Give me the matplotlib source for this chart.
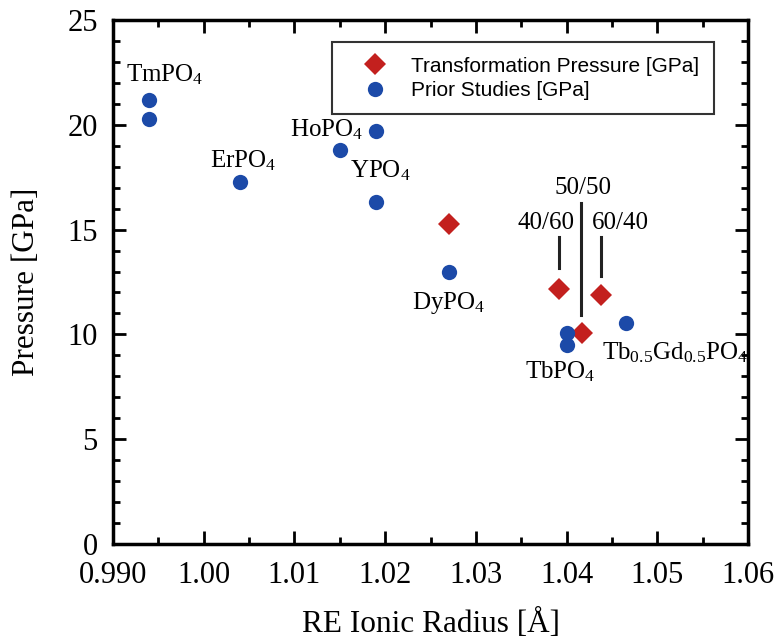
import matplotlib
matplotlib.use("Agg")
import matplotlib.pyplot as plt
from matplotlib.ticker import MultipleLocator, FixedFormatter, FixedLocator

plt.rcParams['mathtext.fontset'] = 'custom'
plt.rcParams['mathtext.rm'] = 'Liberation Serif'
plt.rcParams['mathtext.it'] = 'Liberation Serif'
plt.rcParams['font.family'] = ['Liberation Serif', 'DejaVu Serif']

# Data
trans_x = [1.027, 1.0392, 1.0417, 1.0438]
trans_y = [15.27, 12.17, 10.07, 11.88]
prior_x = [0.994, 0.994, 1.004, 1.015, 1.019, 1.019, 1.027, 1.040, 1.040, 1.0466]
prior_y = [21.2, 20.3, 17.27, 18.8, 19.7, 16.3, 13.0, 10.07, 9.5, 10.54]

xticks = [0.990, 1.00, 1.01, 1.02, 1.03, 1.04, 1.05, 1.06]
xticklabels = ["0.990", "1.00", "1.01", "1.02", "1.03", "1.04", "1.05", "1.06"]
yticks = [0, 5, 10, 15, 20, 25]

RED = '#c3201e'
BLUE = '#1c4aa8'

fig = plt.figure(figsize=(7.77, 6.41), dpi=100)
ax = fig.add_axes([113/777, 1 - 544/641, (748-113)/777, (544-20)/641])

ax.plot(trans_x, trans_y, 'D', color=RED, ms=11.5, mew=0, label='Transformation Pressure [GPa]', zorder=3)
ax.plot(prior_x, prior_y, 'o', color=BLUE, ms=11, mew=0, label='Prior Studies [GPa]', zorder=3)

ax.set_xlim(0.990, 1.06)
ax.set_ylim(0, 25)
ax.xaxis.set_major_locator(FixedLocator(xticks))
ax.xaxis.set_major_formatter(FixedFormatter(xticklabels))
ax.xaxis.set_minor_locator(MultipleLocator(0.005))
ax.yaxis.set_major_locator(FixedLocator(yticks))
ax.yaxis.set_minor_locator(MultipleLocator(1))
ax.tick_params(which='both', direction='in', top=True, right=True, width=2, labelsize=22, color='black')
ax.tick_params(which='major', length=9.5)
ax.tick_params(which='minor', length=5)
ax.tick_params(axis='y', which='major', pad=11)
ax.tick_params(axis='x', which='major', pad=12)
for s in ax.spines.values():
    s.set_linewidth(2.5)

ax.set_xlabel('RE Ionic Radius [Å]', fontsize=22.5, labelpad=14)
ax.set_ylabel('Pressure [GPa]', fontsize=22.5, labelpad=19)

# annotation lines
ax.plot([1.0392, 1.0392], [13.17, 14.65], color='#222222', lw=2.2)
ax.plot([1.0416, 1.0416], [10.93, 16.27], color='#222222', lw=2.2)
ax.plot([1.0438, 1.0438], [12.79, 14.65], color='#222222', lw=2.2)

fs = 18
ax.text(1.0377, 15.3, '40/60', fontsize=fs, ha='center', va='center')
ax.text(1.0418, 17.0, '50/50', fontsize=fs, ha='center', va='center')
ax.text(1.0459, 15.3, '60/40', fontsize=fs, ha='center', va='center')

ax.text(0.9957, 22.4, r'TmPO$_4$', fontsize=fs, ha='center', va='center')
ax.text(1.0044, 18.3, r'ErPO$_4$', fontsize=fs, ha='center', va='center')
ax.text(1.0135, 19.75, r'HoPO$_4$', fontsize=fs, ha='center', va='center')
ax.text(1.0195, 17.8, r'YPO$_4$', fontsize=fs, ha='center', va='center')
ax.text(1.027, 11.5, r'DyPO$_4$', fontsize=fs, ha='center', va='center')
ax.text(1.0393, 8.2, r'TbPO$_4$', fontsize=fs, ha='center', va='center')
ax.text(1.0520, 9.15, r'Tb$_{0.5}$Gd$_{0.5}$PO$_4$', fontsize=fs, ha='center', va='center')

leg = ax.legend(loc='upper left', bbox_to_anchor=(0.345, 0.958), frameon=True, fancybox=False,
                edgecolor='black', prop={'family': 'Liberation Sans', 'size': 15},
                handletextpad=0.4, borderpad=0.7, labelspacing=0.25, handlelength=2.7, borderaxespad=0)
leg.get_frame().set_linewidth(1.5)

fig.savefig('out.png', dpi=100)
